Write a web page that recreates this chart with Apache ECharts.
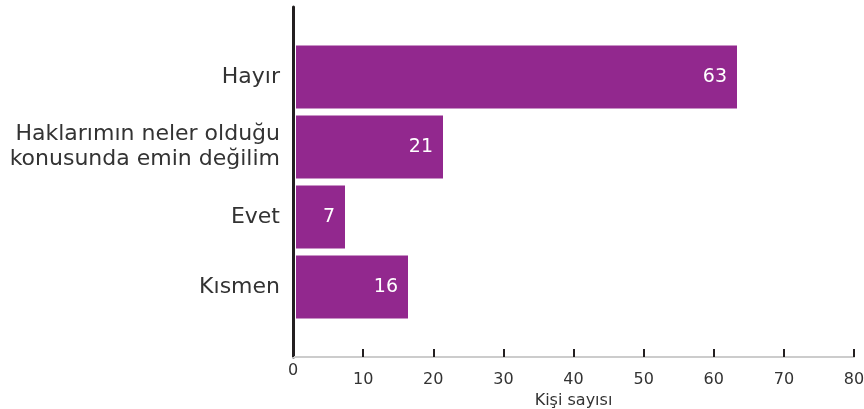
<!DOCTYPE html>
<html>
<head>
<meta charset="utf-8">
<script src="https://cdn.jsdelivr.net/npm/echarts@6/dist/echarts.min.js"></script>
<style>
  html, body { margin: 0; padding: 0; background: #fff; }
  #chart { width: 864px; height: 409px; }
</style>
</head>
<body>
<div id="chart"></div>
<script>
// Answers, listed top to bottom
const categories = ['Hayır', 'Haklarımın neler olduğu\nkonusunda emin değilim', 'Evet', 'Kısmen'];
const counts = [63, 21, 7, 16];
const xTicks = [0, 10, 20, 30, 40, 50, 60, 70, 80];
const xAxisTitle = 'Kişi sayısı';

const FONT = '"DejaVu Sans", "Open Sans", sans-serif';
const PURPLE = '#92288e';
const INK = '#231f20';
const TEXT = '#333333';

// Empty slots above and below leave half a band of room at both ends of the axis
const axisCategories = [''].concat(categories, ['']);
const barData = ['-'].concat(counts, ['-']);

const xMin = xTicks[0];
const xMax = xTicks[xTicks.length - 1];

const chart = echarts.init(document.getElementById('chart'));
chart.setOption({
  animation: false,
  grid: [
    // axes frame
    { left: 293, right: 10, top: 7, bottom: 52, containLabel: false, outerBoundsMode: 'none' },
    // bars, set just clear of the thick vertical axis line
    { left: 296, right: 8, top: 7, bottom: 52, containLabel: false, outerBoundsMode: 'none' }
  ],
  xAxis: [{
    gridIndex: 0,
    type: 'value',
    min: xMin,
    max: xMax,
    interval: xTicks[1] - xTicks[0],
    name: xAxisTitle,
    nameLocation: 'middle',
    nameGap: 30,
    nameTextStyle: { fontFamily: FONT, fontSize: 16, color: TEXT },
    splitLine: { show: false },
    axisLine: { show: true, lineStyle: { color: '#cccccc', width: 2 } },
    axisTick: { show: true, inside: true, length: 8, lineStyle: { color: INK, width: 2 } },
    axisLabel: {
      margin: 6,
      formatter: v => v === 0 ? '{z|0}' : '{n|' + v + '}',
      rich: {
        z: { fontFamily: FONT, fontSize: 16, color: TEXT },
        n: { fontFamily: FONT, fontSize: 16, color: TEXT, padding: [9, 0, 0, 0] }
      }
    }
  }, {
    gridIndex: 1,
    type: 'value',
    min: xMin,
    max: xMax,
    show: false
  }],
  yAxis: [{
    gridIndex: 0,
    type: 'category',
    data: axisCategories,
    inverse: true,
    boundaryGap: false,
    splitLine: { show: false },
    axisLine: { show: true, lineStyle: { color: INK, width: 3 } },
    axisTick: { show: false },
    axisLabel: {
      margin: 13,
      interval: 0,
      fontFamily: FONT,
      fontSize: 22,
      lineHeight: 25,
      color: TEXT,
      align: 'right'
    }
  }, {
    gridIndex: 1,
    type: 'category',
    data: axisCategories,
    inverse: true,
    boundaryGap: false,
    show: false
  }],
  series: [{
    type: 'bar',
    xAxisIndex: 1,
    yAxisIndex: 1,
    data: barData,
    barWidth: 63,
    itemStyle: { color: PURPLE },
    z: 1,
    label: {
      show: true,
      position: 'insideRight',
      distance: 10,
      color: '#fff',
      fontFamily: FONT,
      fontSize: 19
    }
  }]
});
</script>
</body>
</html>
